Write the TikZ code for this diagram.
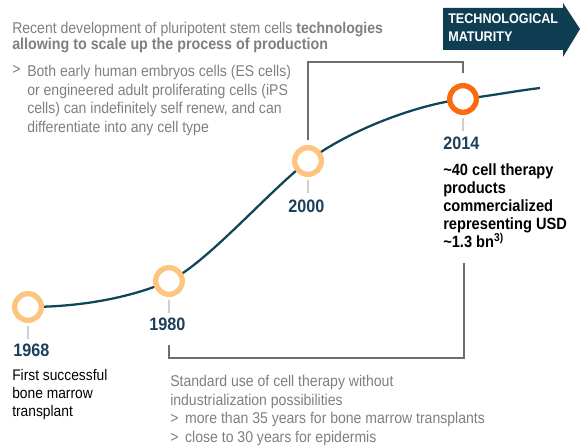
\documentclass[tikz,border=0pt]{standalone}
\usepackage{fontspec}
\setmainfont{Liberation Sans}[FakeStretch=0.9]
\definecolor{curvecol}{HTML}{0E4558}
\definecolor{datecol}{HTML}{1C3F5A}
\definecolor{ringlight}{HTML}{FDC57F}
\definecolor{ringorange}{HTML}{FA6A0E}
\definecolor{brackgray}{HTML}{6E6E6E}
\definecolor{textgray}{HTML}{7F7F7F}
\definecolor{tickgray}{HTML}{CFCFCF}
\definecolor{arrowcol}{HTML}{0F3E53}
\begin{document}
\begin{tikzpicture}[x=0.75pt,y=-0.75pt,
  ring/.style={circle, draw, fill=white, line width=4pt, minimum size=20pt, inner sep=0pt},
  tickline/.style={draw=tickgray, line width=0.8pt},
  bracket/.style={draw=brackgray, line width=1.6pt},
  datelabel/.style={anchor=north west, inner sep=0pt, text=datecol, font=\fontsize{13.5}{15}\selectfont\bfseries},
  graytext/.style={anchor=north west, inner sep=0pt, align=left, text=textgray, font=\fontsize{11.7}{13.9}\selectfont},
  blacktext/.style={anchor=north west, inner sep=0pt, align=left, text=black}]
\useasboundingbox (0,0) rectangle (581,448);

% maturity arrow
\fill[arrowcol] (443,8) -- (563,8) -- (563,3) -- (580,29) -- (563,57) -- (563,50) -- (443,50) -- cycle;
\node[anchor=north west, inner sep=0pt, align=left, text=white,
  font=\fontsize{10.5}{13.5}\selectfont\bfseries] (maturity) at (448,13) {TECHNOLOGICAL\\MATURITY};

% milestone positions
\coordinate (p68) at (28,307);
\coordinate (p80) at (169,281);
\coordinate (p00) at (308,161);
\coordinate (p14) at (463,99);
\coordinate (pend) at (540,88);

% growth curve
\draw[curvecol, line width=1.7pt]
  (p68) .. controls (80,307) and (130,298) .. (p80)
        .. controls (205,265) and (270,190) .. (p00)
        .. controls (345,133) and (410,106) .. (p14)
        .. controls (490,96) and (515,91) .. (pend);

% milestone rings
\node[ring, draw=ringlight] (c68) at (p68) {};
\node[ring, draw=ringlight] (c80) at (p80) {};
\node[ring, draw=ringlight] (c00) at (p00) {};
\node[ring, draw=ringorange] (c14) at (p14) {};

% ticks under the rings
\foreach \c in {c68,c80,c00,c14}
  \draw[tickline] ([yshift=-2pt]\c.south) -- ++(0,13);

% year labels
\node[datelabel] (y68) at (13,344) {1968};
\node[datelabel] (y80) at (149,318) {1980};
\node[datelabel] (y00) at (288,200) {2000};
\node[datelabel] (y14) at (443,137) {2014};

% milestone descriptions
\node[blacktext, font=\fontsize{11.5}{13.5}\selectfont] (d68) at (12,369)
  {First successful\\bone marrow\\transplant};
\node[blacktext, font=\fontsize{12.2}{13.5}\selectfont\bfseries] (d14) at (443,163)
  {\textasciitilde40 cell therapy\\products\\commercialized\\representing USD\\\textasciitilde1.3 bn\textsuperscript{3)}};

% upper bracket: 2000 to 2014
\coordinate (tb1) at (308,140);
\coordinate (tb2) at (463,73);
\draw[bracket] (tb1) |- (463,62) -- (tb2);

% lower bracket: 1980 to 2014
\coordinate (bb1) at (169,345);
\coordinate (bb2) at (464,263);
\draw[bracket] (bb1) |- (464,358) -- (bb2);

% upper commentary
\node[graytext, font=\fontsize{11.7}{12}\selectfont] (head) at (12,22)
  {Recent development of pluripotent stem cells \textbf{technologies}\\{\fontsize{11.9}{12}\selectfont\bfseries allowing to scale up the process of production}};
\node[graytext] (gt) at (12,65) {>};
\node[graytext] (bullet) at (27,65)
  {Both early human embryos cells (ES cells)\\or engineered adult proliferating cells (iPS\\cells) can indefinitely self renew, and can\\differentiate into any cell type};

% lower commentary
\node[graytext] (lower) at (170,375)
  {Standard use of cell therapy without\\industrialization possibilities\\\makebox[11.2pt][l]{>}more than 35 years for bone marrow transplants\\\makebox[11.2pt][l]{>}close to 30 years for epidermis};
\end{tikzpicture}
\end{document}
